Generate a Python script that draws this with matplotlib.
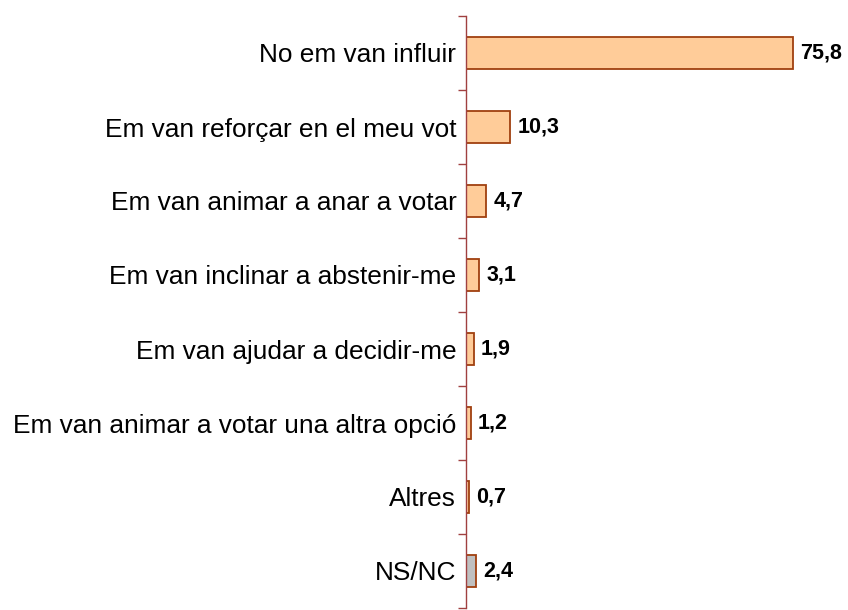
import matplotlib.pyplot as plt
import numpy as np

plt.rcParams['font.family'] = ['Liberation Sans', 'DejaVu Sans']

categories = [
    "No em van influir",
    "Em van reforçar en el meu vot",
    "Em van animar a anar a votar",
    "Em van inclinar a abstenir-me",
    "Em van ajudar a decidir-me",
    "Em van animar a votar una altra opció",
    "Altres",
    "NS/NC",
]
values = [75.8, 10.3, 4.7, 3.1, 1.9, 1.2, 0.7, 2.4]
bar_colors = ["#FFCC99"] * 7 + ["#C0C0C0"]

fig = plt.figure(figsize=(8.48, 6.1), dpi=100)
ax = fig.add_axes([466 / 848, 2 / 610, 380 / 848, 592 / 610])

y = np.arange(len(categories))
ax.barh(y, values, height=0.43, color=bar_colors, edgecolor="#A0400F", linewidth=1.3)

for yi, v in zip(y, values):
    ax.text(v + 1.6, yi, f"{v:.1f}".replace(".", ","), va="center", ha="left",
            fontsize=15.5, fontweight="bold")

ax.set_xlim(0, 88)
ax.set_ylim(len(categories) - 0.5, -0.5)

ax.set_yticks(y)
ax.set_yticklabels(categories, fontsize=18.9)
ax.tick_params(axis="y", which="major", length=0, pad=7)
ax.set_yticks(np.arange(-0.5, len(categories)), minor=True)
ax.tick_params(axis="y", which="minor", length=6, width=1, color="#A04040", direction="out")
ax.set_xticks([])

for side in ["top", "right", "bottom"]:
    ax.spines[side].set_visible(False)
ax.spines["left"].set_color("#A04040")
ax.spines["left"].set_linewidth(1)

fig.savefig("out.png", dpi=100)
